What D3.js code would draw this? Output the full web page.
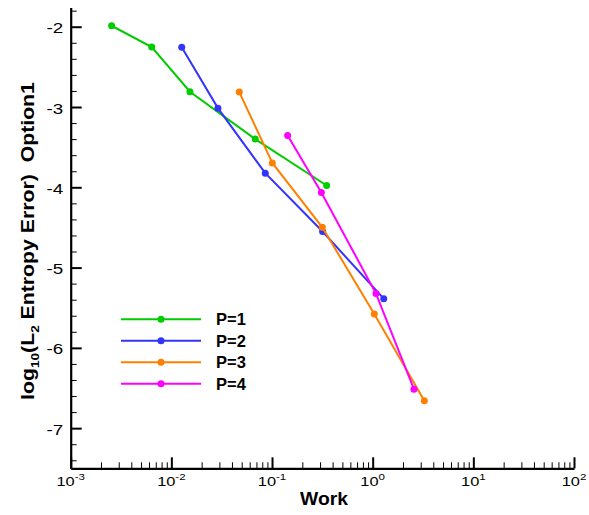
<!DOCTYPE html>
<html>
<head>
<meta charset="utf-8">
<script src="https://cdn.jsdelivr.net/npm/d3@7"></script>
<style>
  body { margin: 0; background: #fff; }
  svg { font-family: "Liberation Sans", Arial, sans-serif; }
</style>
</head>
<body>
<svg id="chart" width="589" height="515"></svg>
<script>
// series (work, log10 error)
const seriesNames = ["P=1", "P=2", "P=3", "P=4"];
const seriesColors = ["#00cc00", "#3333ff", "#ff8000", "#ff00ff"];
const p1Work = [0.00255, 0.00638, 0.0153, 0.0682, 0.349];
const p1Err = [-1.988, -2.253, -2.810, -3.400, -3.978];
const p2Work = [0.01268, 0.0290, 0.0857, 0.318, 1.288];
const p2Err = [-2.257, -3.014, -3.824, -4.551, -5.387];
const p3Work = [0.0473, 0.1007, 0.316, 1.038, 3.26];
const p3Err = [-2.814, -3.696, -4.498, -5.579, -6.658];
const p4Work = [0.143, 0.309, 1.079, 2.57];
const p4Err = [-3.354, -4.065, -5.324, -6.514];
const xMajorTicks = [1e-3, 1e-2, 1e-1, 1e0, 1e1, 1e2];
const xTickExponents = ["-3", "-2", "-1", "0", "1", "2"];
const yMajorTicks = [-7, -6, -5, -4, -3, -2];
const yTickLabels = ["-7", "-6", "-5", "-4", "-3", "-2"];

const works = [p1Work, p2Work, p3Work, p4Work];
const errs = [p1Err, p2Err, p3Err, p4Err];

const svg = d3.select("#chart");

// scales
const x = d3.scaleLog().domain([1e-3, 1e2]).range([70.7, 574]);
const y = d3.scaleLinear().domain([-7.5, -1.76]).range([468.3, 7.45]);

// stretch a text horizontally (in its own frame) to a target width
function stretch(node, ax, ay, rot, width) {
    const w = node.getComputedTextLength();
    const s = width / w;
    d3.select(node).attr("x", 0).attr("y", 0)
        .attr("transform", "translate(" + ax + "," + ay + ") rotate(" + rot + ") scale(" + s + ",1)");
    return s;
}

// minor ticks
const xMinor = [];
for (let e = -3; e < 2; e++) {
    for (let m = 2; m <= 9; m++) xMinor.push(m * Math.pow(10, e));
}
const yMinor = d3.range(-7.4, -1.75, 0.2).filter(v => Math.abs(v - Math.round(v)) > 0.05);

// Y axis
const yAxisG = svg.append("g").attr("transform", "translate(" + x.range()[0] + ",0)");
yAxisG.append("g")
    .call(d3.axisLeft(y).tickValues(yMinor).tickSize(-6).tickSizeOuter(0).tickFormat(""))
    .call(g => g.select(".domain").remove());
yAxisG.append("g")
    .call(d3.axisLeft(y).tickValues(yMajorTicks).tickSize(-11).tickSizeOuter(0).tickFormat(""))
    .call(g => g.select(".domain").attr("stroke-width", 2.2))
    .call(g => g.selectAll(".tick line").attr("stroke-width", 2));
yAxisG.selectAll("line").attr("stroke", "#000");

// X axis
const xAxisG = svg.append("g").attr("transform", "translate(0," + y.range()[0] + ")");
xAxisG.append("g")
    .call(d3.axisBottom(x).tickValues(xMinor).tickSize(-6).tickSizeOuter(0).tickFormat(""))
    .call(g => g.select(".domain").remove());
xAxisG.append("g")
    .call(d3.axisBottom(x).tickValues(xMajorTicks).tickSize(-11).tickSizeOuter(0).tickFormat(""))
    .call(g => g.select(".domain").attr("stroke-width", 2.2))
    .call(g => g.selectAll(".tick line").attr("stroke-width", 2));
xAxisG.selectAll("line").attr("stroke", "#000");

// y tick labels
const ytl = svg.append("g").selectAll("text")
    .data(yMajorTicks)
    .join("text")
    .attr("text-anchor", "end")
    .attr("font-size", 14)
    .attr("fill", "#000")
    .text((d, i) => yTickLabels[i]);
ytl.each(function (d) { stretch(this, 63.3, y(d) + 6.6, 0, 16.7); });

// decade labels 10^n
const xl = svg.append("g").selectAll("text")
    .data(xMajorTicks)
    .join("text")
    .attr("text-anchor", "middle")
    .attr("font-size", 13.5)
    .attr("fill", "#000");
xl.append("tspan").text("10");
xl.append("tspan")
    .attr("font-size", 9.5)
    .attr("dy", -6)
    .text((d, i) => xTickExponents[i]);
const xlScale = 28.5 / xl.nodes()[0].getComputedTextLength();
xl.attr("transform", d => "translate(" + x(d) + ",485.5) scale(" + xlScale + ",1)");

// axis titles
const xTitle = svg.append("text")
    .attr("text-anchor", "middle")
    .attr("font-size", 18)
    .attr("font-weight", "bold")
    .text("Work");
stretch(xTitle.node(), 324, 505, 0, 48);

const yl = svg.append("text")
    .attr("text-anchor", "middle")
    .attr("font-size", 18)
    .attr("font-weight", "bold")
    .style("white-space", "pre");
yl.append("tspan").text("log");
yl.append("tspan").attr("font-size", 11.5).attr("dy", 5).text("10");
yl.append("tspan").attr("dy", -5).text("(L");
yl.append("tspan").attr("font-size", 11.5).attr("dy", 5).text("2");
yl.append("tspan").attr("dy", -5).text(" Entropy Error)  Option1");
stretch(yl.node(), 34, 241, -90, 318);

// series lines and markers
const line = d3.line().x(d => x(d[0])).y(d => y(d[1]));
works.forEach((w, i) => {
    const pts = w.map((v, j) => [v, errs[i][j]]);
    const g = svg.append("g");
    g.append("path")
        .datum(pts)
        .attr("d", line)
        .attr("fill", "none")
        .attr("stroke", seriesColors[i])
        .attr("stroke-width", 2);
    g.selectAll("circle")
        .data(pts)
        .join("circle")
        .attr("cx", d => x(d[0]))
        .attr("cy", d => y(d[1]))
        .attr("r", 3.5)
        .attr("fill", seriesColors[i]);
});

// legend
const legend = svg.append("g");
seriesNames.forEach((name, i) => {
    const ly = 319.3 + i * 21.45;
    legend.append("line")
        .attr("x1", 121).attr("x2", 201)
        .attr("y1", ly).attr("y2", ly)
        .attr("stroke", seriesColors[i])
        .attr("stroke-width", 2);
    legend.append("circle")
        .attr("cx", 161).attr("cy", ly).attr("r", 3.5)
        .attr("fill", seriesColors[i]);
    legend.append("text")
        .attr("x", 216).attr("y", ly + 6)
        .attr("font-size", 16.5)
        .attr("font-weight", "bold")
        .text(name);
});
</script>
</body>
</html>
